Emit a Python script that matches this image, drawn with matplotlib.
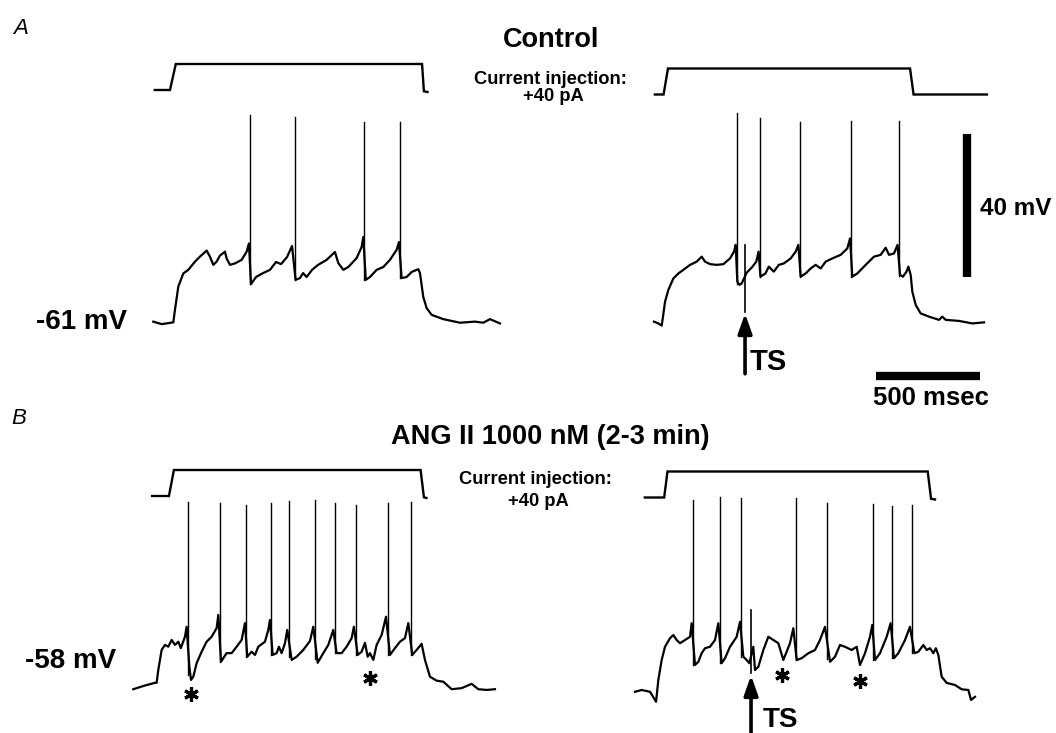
import numpy as np
import matplotlib
matplotlib.use("Agg")
import matplotlib.pyplot as plt

plt.rcParams['font.family'] = ['Liberation Sans', 'DejaVu Sans']

W, H = 1056, 733
MS_PER_PX = 4.8      # 500 ms = 104 px
MV_PER_PX = 0.28     # 40 mV = 143 px
PA_PER_PX = 1 / 0.65 # 40 pA = 26 px

# ---------------- DATA ----------------
# Panel A (Control), left sweep: time (ms) / membrane potential (mV)
a1_t = [0, 40, 96, 104, 120, 144, 168, 200, 224, 256, 272, 288, 304, 320, 344, 352, 368, 392, 424, 448, 459,
        469, 493, 527, 560, 589, 613, 642, 666,
        683, 704, 719, 736, 762, 791, 832, 872, 888, 912, 936, 976, 1000, 1008,
        1020, 1040, 1072, 1104, 1136, 1168, 1179,
        1192, 1216, 1240, 1272, 1280, 1296, 1312, 1336, 1392, 1472, 1544, 1584, 1616, 1664]
a1_v = [-60.9, -61.6, -61.1, -57.6, -51.1, -47.4, -46.4, -44.1, -42.7, -41.0, -42.7, -45.0, -44.1, -42.4, -41.3, -43.2, -45.0, -44.6, -43.6, -41.3, -39.0,
        -50.4, -48.4, -47.3, -46.4, -44.2, -44.8, -42.8, -39.7,
        -49.2, -48.7, -47.3, -48.4, -46.4, -45.0, -43.6, -41.4, -44.5, -46.4, -45.6, -43.1, -40.0, -37.2,
        -49.2, -48.4, -46.4, -45.6, -43.6, -40.8, -38.6,
        -48.7, -48.4, -47.0, -46.2, -47.3, -54.0, -57.1, -59.0, -60.2, -61.2, -60.9, -61.2, -60.2, -61.4]
a1_spike_t = [464, 678, 1013, 1186]
a1_spike_v = [-3.0, -3.6, -5.0, -5.0]
a1_cmd_t = [7, 80, 108, 1290, 1299, 1316]
a1_cmd_i = [0, 0, 40, 40, -2, -3]

# Panel A (Control), right sweep with threshold stimulus (TS)
a2_t = [0, 21, 37, 42, 53, 69, 93, 117, 141, 173, 205, 229, 245, 269, 301, 333, 365, 384, 392,
        400, 410, 421, 432, 446, 470, 491, 502,
        511, 535, 551, 575, 599, 623, 656, 680, 693,
        704, 728, 752, 776, 800, 824, 856, 896, 928, 941,
        952, 976, 1016, 1056, 1088, 1112, 1128, 1152, 1169,
        1181, 1195, 1212, 1221, 1232, 1240, 1256, 1280, 1320, 1368, 1384, 1400, 1464, 1528, 1584]
a2_v = [-60.9, -61.4, -62.0, -60.0, -55.3, -52.0, -48.8, -47.4, -46.4, -45.0, -44.1, -42.7, -44.1, -44.8, -45.0, -44.8, -43.2, -41.3, -39.4,
        -49.7, -50.6, -50.2, -48.8, -47.1, -45.7, -44.1, -41.3,
        -48.3, -47.4, -45.5, -46.9, -45.0, -44.6, -43.2, -41.3, -39.4,
        -48.3, -47.4, -46.0, -45.0, -46.0, -44.1, -43.2, -42.2, -40.4, -37.6,
        -48.3, -47.4, -45.0, -42.7, -42.2, -40.2, -42.2, -41.8, -39.4,
        -47.8, -48.3, -46.9, -45.5, -47.8, -52.5, -56.2, -58.6, -59.5, -60.4, -59.5, -60.4, -60.7, -61.4, -61.1]
a2_spike_t = [397, 508, 700, 947, 1176]
a2_spike_v = [-2.5, -3.9, -5.1, -4.7, -4.7]
a2_ts_t = 437
a2_ts_v = [-58.2, -39.4]
a2_cmd_t = [4, 46, 67, 1229, 1246, 1598]
a2_cmd_i = [0, 0, 40, 40, 0, 0]

# Panel B (ANG II 1000 nM), left sweep
b1_t = [0, 48, 104, 112, 120, 136, 152, 168, 184, 200, 216, 228, 248, 256,
        269, 277, 288, 304, 328, 352, 376, 400, 408,
        421, 448, 472, 496, 520, 536,
        547, 568, 584, 600, 632, 648, 656,
        669, 688, 699, 712, 728, 739,
        760, 784, 816, 848, 864,
        885, 912, 936, 960,
        976, 1000, 1024, 1048, 1059,
        1077, 1096, 1112, 1125, 1136, 1152, 1168, 1192, 1213,
        1232, 1256, 1280, 1304, 1320,
        1339, 1360, 1384, 1400, 1424, 1456, 1488, 1528, 1576, 1624, 1656, 1696, 1736]
b1_v = [-58.9, -58.0, -57.1, -57.1, -53.5, -47.9, -46.5, -47.0, -45.1, -46.5, -45.6, -47.4, -44.2, -41.4,
        -52.6, -56.3, -55.4, -51.6, -48.4, -45.6, -44.2, -41.8, -38.1,
        -51.2, -48.8, -48.8, -47.0, -45.1, -40.4,
        -49.8, -48.4, -49.3, -47.0, -45.6, -42.3, -39.5,
        -49.3, -48.8, -47.0, -48.8, -46.0, -42.3,
        -50.7, -49.8, -47.9, -45.4, -41.4,
        -51.5, -48.8, -46.5, -42.3,
        -48.8, -48.8, -47.0, -44.6, -41.4,
        -49.3, -48.4, -45.9, -49.8, -48.8, -50.7, -46.5, -43.7, -38.6,
        -49.3, -47.4, -45.6, -44.6, -40.4,
        -49.3, -47.9, -46.2, -50.7, -55.4, -56.5, -56.8, -58.9, -58.6, -57.4, -58.9, -59.1, -58.9]
b1_spike_t = [263, 416, 542, 661, 747, 872, 968, 1068, 1221, 1331]
b1_spike_v = [-6.4, -6.7, -7.3, -6.7, -6.1, -5.9, -6.7, -7.3, -6.7, -6.4]
b1_star_t = [275, 1136]
b1_star_v = [-60.3, -55.8]
b1_cmd_t = [90, 171, 195, 1379, 1395, 1407]
b1_cmd_i = [0, 0, 40, 40, -2, -3]

# Panel B (ANG II 1000 nM), right sweep with TS
b2_t = [0, 32, 72, 91, 101, 112, 128, 144, 168, 184, 200, 216, 240, 264, 272,
        288, 304, 320, 336, 360, 384, 400,
        416, 432, 456, 488, 504,
        520, 536, 549, 568, 576, 592, 616, 640, 664, 688, 712, 744, 760,
        776, 800, 832, 864, 888, 912,
        936, 960, 984, 1008, 1040, 1064, 1080, 1104, 1128, 1139,
        1152, 1176, 1208, 1227,
        1243, 1264, 1296, 1320,
        1341, 1360, 1384, 1400, 1416, 1432, 1444, 1456, 1472, 1496, 1536, 1568, 1600, 1613, 1632]
b2_v = [-58.5, -58.0, -58.5, -60.3, -61.3, -55.2, -49.6, -45.9, -43.5, -42.6, -44.0, -44.9, -44.0, -43.1, -39.3,
        -51.0, -50.1, -47.7, -46.3, -45.9, -44.0, -39.3,
        -50.5, -49.1, -45.9, -43.1, -38.9,
        -48.7, -49.6, -50.5, -45.9, -52.4, -51.5, -46.8, -43.1, -44.0, -44.9, -49.6, -44.9, -40.7,
        -49.6, -49.1, -47.7, -46.8, -44.0, -40.3,
        -50.1, -48.7, -45.4, -45.9, -46.8, -45.9, -51.0, -47.7, -43.1, -39.8,
        -49.6, -47.7, -43.1, -39.3,
        -49.1, -47.7, -44.0, -40.3,
        -47.7, -47.3, -45.4, -46.8, -46.3, -47.7, -46.3, -48.2, -54.3, -56.0, -56.6, -57.8, -58.0, -60.8, -59.9]
b2_spike_t = [277, 408, 510, 771, 923, 1144, 1235, 1331]
b2_spike_v = [-4.8, -3.9, -4.3, -4.3, -5.6, -5.9, -6.5, -6.2]
b2_ts_t = 557
b2_ts_v = [-53.3, -35.6]
b2_star_t = [704, 1081]
b2_star_v = [-53.8, -55.5]
b2_cmd_t = [47, 140, 156, 1405, 1421, 1440]
b2_cmd_i = [0, 0, 40, 40, -2, -3]

# ---------------- FIGURE ----------------
fig = plt.figure(figsize=(W / 100, H / 100), dpi=100)
fig.patch.set_facecolor('white')


def overlay_axes(ox, oy, xscale, yscale, yref):
    """Full-figure transparent axes; data point (0, yref) sits at pixel (ox, oy)."""
    ax = fig.add_axes([0, 0, 1, 1])
    ax.set_xlim(-ox * xscale, (W - ox) * xscale)
    ax.set_ylim(yref - (H - oy) * yscale, yref + oy * yscale)
    ax.axis('off')
    ax.patch.set_alpha(0)
    return ax


def draw_trace(ax, t, v, spk_t, spk_v):
    t = np.asarray(t, float)
    v = np.asarray(v, float)
    ax.plot(t, v, color='black', lw=1.6, solid_joinstyle='round')
    for st, sv in zip(spk_t, spk_v):
        lo = np.min(np.interp(np.arange(st - 4, st + 12), t, v))
        ax.plot([st, st], [lo, sv], color='black', lw=1.0)


def draw_cmd(ax, t, i):
    ax.plot(t, i, color='black', lw=1.7, solid_joinstyle='miter')


def add_star(ax, ts, vs):
    ax.plot(ts, vs, linestyle='none', marker=(6, 2, 0), ms=10.5, mew=2.3, color='black')


# voltage axes
ax_a1 = overlay_axes(153.3, 322, MS_PER_PX, MV_PER_PX, -61)
ax_a2 = overlay_axes(654.0, 322, MS_PER_PX, MV_PER_PX, -61)
ax_b1 = overlay_axes(133.3, 686, MS_PER_PX, MV_PER_PX, -58)
ax_b2 = overlay_axes(635.0, 690, MS_PER_PX, MV_PER_PX, -58)
# command-current axes
cx_a1 = overlay_axes(153.3, 90, MS_PER_PX, PA_PER_PX, 0)
cx_a2 = overlay_axes(654.0, 94.5, MS_PER_PX, PA_PER_PX, 0)
cx_b1 = overlay_axes(133.3, 496, MS_PER_PX, PA_PER_PX, 0)
cx_b2 = overlay_axes(635.0, 497.5, MS_PER_PX, PA_PER_PX, 0)

draw_trace(ax_a1, a1_t, a1_v, a1_spike_t, a1_spike_v)
draw_trace(ax_a2, a2_t, a2_v, a2_spike_t, a2_spike_v)
draw_trace(ax_b1, b1_t, b1_v, b1_spike_t, b1_spike_v)
draw_trace(ax_b2, b2_t, b2_v, b2_spike_t, b2_spike_v)

draw_cmd(cx_a1, a1_cmd_t, a1_cmd_i)
draw_cmd(cx_a2, a2_cmd_t, a2_cmd_i)
draw_cmd(cx_b1, b1_cmd_t, b1_cmd_i)
draw_cmd(cx_b2, b2_cmd_t, b2_cmd_i)

# threshold-stimulus artifacts
ax_a2.plot([a2_ts_t, a2_ts_t], a2_ts_v, color='black', lw=1.2)
ax_b2.plot([b2_ts_t, b2_ts_t], b2_ts_v, color='black', lw=1.2)

# TS arrows
arrow_kw = dict(arrowstyle='-|>,head_length=0.85,head_width=0.3', mutation_scale=14,
                lw=2.6, color='black', shrinkA=0, shrinkB=0)
ax_a2.annotate('', xy=(a2_ts_t, a2_ts_v[0] - 0.4), xytext=(a2_ts_t, -75.5), arrowprops=arrow_kw)
ax_b2.annotate('', xy=(b2_ts_t, b2_ts_v[0] - 0.6), xytext=(b2_ts_t, -75.0), arrowprops=arrow_kw)

# asterisks
add_star(ax_b1, b1_star_t, b1_star_v)
add_star(ax_b2, b2_star_t, b2_star_v)

# scale bars (40 mV, 500 ms) in A-right data units
ax_a2.plot([1502, 1502], [-48.4, -48.4 + 40], color='black', lw=6.0, solid_capstyle='butt')
ax_a2.plot([1066, 1066 + 500], [-76.1, -76.1], color='black', lw=6.0, solid_capstyle='butt')


# ---------------- TEXT ----------------
def ftext(px, py, s, size, ha='center', weight='bold', style='normal'):
    fig.text(px / W, 1 - py / H, s, fontsize=size, ha=ha, va='baseline',
             fontweight=weight, fontstyle=style, color='black')


ftext(13, 34, 'A', 16, ha='left', weight='normal', style='italic')
ftext(11, 424, 'B', 16, ha='left', weight='normal', style='italic')

ftext(551, 47, 'Control', 19.5)
ftext(550, 83.5, 'Current injection:', 13.2)
ftext(553, 101, '+40 pA', 13.2)
ftext(81, 329, '-61 mV', 20)
ftext(980, 215, '40 mV', 17.5, ha='left')
ftext(750, 370, 'TS', 21, ha='left')
ftext(931, 405, '500 msec', 18.5)

ftext(550, 444, 'ANG II 1000 nM (2-3 min)', 19.5)
ftext(535, 483.5, 'Current injection:', 13.2)
ftext(538.5, 506.5, '+40 pA', 13.2)
ftext(71, 668.5, '-58 mV', 20)
ftext(763, 727, 'TS', 20, ha='left')

fig.savefig('out.png', dpi=100, facecolor='white')
